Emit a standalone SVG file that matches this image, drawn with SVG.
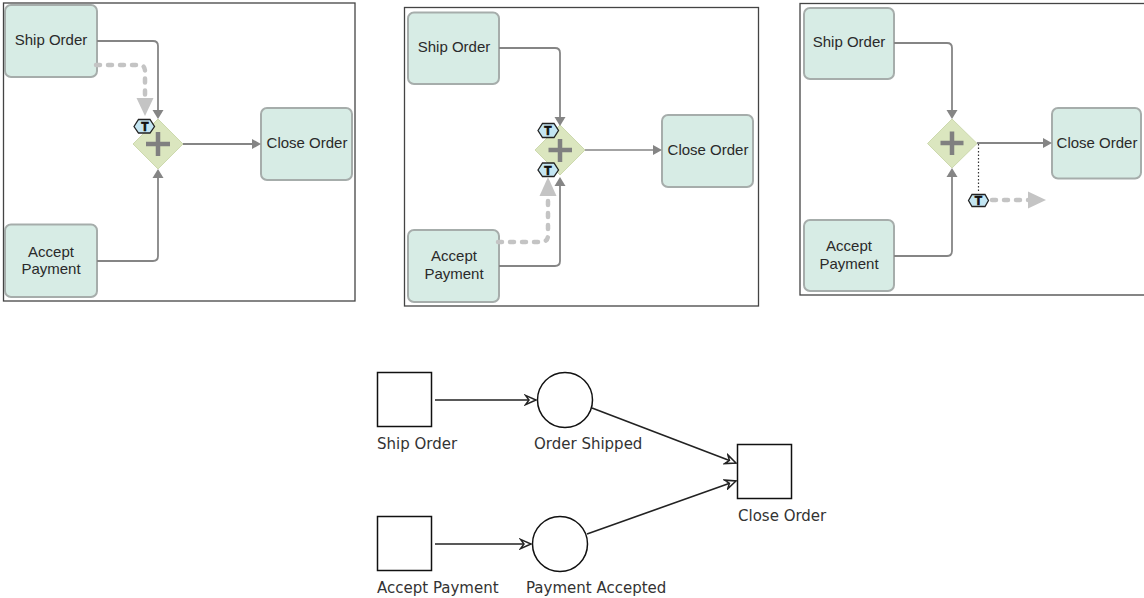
<svg xmlns="http://www.w3.org/2000/svg" width="1144" height="598" viewBox="0 0 1144 598">
<style>
.frame{fill:#fff;stroke:#444;stroke-width:1.3}
.task{fill:#d7ece5;stroke:#a6adab;stroke-width:2}
.gw{fill:#dbe6bf;stroke:#cdd9ae;stroke-width:1}
.plus{stroke:#808080;stroke-width:4.500;fill:none}
.flow{fill:none;stroke:#858585;stroke-width:1.800}
.token{fill:none;stroke:#c4c4c4;stroke-width:4.500;stroke-dasharray:4 8;stroke-linecap:round}
.ah{fill:#858585}
.tah{fill:#c4c4c4}
.hex{fill:#c4e6f3;stroke:#222;stroke-width:1.300}
.ht{font:bold 12px "Liberation Sans",Arial,sans-serif;fill:#111;text-anchor:middle;stroke:#111;stroke-width:.7}
.lbl{font:15px "Liberation Sans",Arial,sans-serif;fill:#2a2a2a;text-anchor:middle}
.pn{fill:#fff;stroke:#111;stroke-width:1.500}
.pl{font:15px "DejaVu Sans",Verdana,sans-serif;fill:#333}
.arc{fill:none;stroke:#222;stroke-width:1.600}
</style>
<defs>
<marker id="open" markerWidth="14" markerHeight="12" refX="10" refY="5" orient="auto" markerUnits="userSpaceOnUse" viewBox="0 0 12 10">
<path d="M1 1L10 5L1 9L4 5Z" fill="#fff" stroke="#222" stroke-width="1.300"/>
</marker>
</defs>
<g id="panel-1">
<rect class="frame" x="3.500" y="3" width="351.500" height="298"/>
</g>
<g id="panel-2">
<rect class="frame" x="404.500" y="7.500" width="354" height="298.500"/>
</g>
<g id="panel-3">
<rect class="frame" x="800" y="3.500" width="350" height="291.500"/>
</g>
<g id="p1-ship"><rect class="task" x="5" y="5" width="92" height="72" rx="6"/><text class="lbl" x="51" y="45">Ship Order</text></g>
<g id="p1-accept"><rect class="task" x="5" y="224.500" width="92" height="72.500" rx="6"/><text class="lbl" x="51" y="257">Accept</text><text class="lbl" x="51" y="274">Payment</text></g>
<g id="p1-close"><rect class="task" x="261" y="108" width="91" height="72" rx="6"/><text class="lbl" x="307" y="148">Close Order</text></g>
<g id="p1-gateway"><path class="gw" d="M158 119L183 144L158 169L133 144Z"/><path class="plus" d="M146 144H170M158 132V156"/></g>
<g id="p1-token"><path class="hex" d="M134 126.500L138.500 119.500H150L154.500 126.500L150 133H138.500Z"/><text class="ht" x="145" y="131">T</text></g>
<g id="p2-ship"><rect class="task" x="408" y="12.500" width="91" height="71.500" rx="6"/><text class="lbl" x="454" y="52">Ship Order</text></g>
<g id="p2-accept"><rect class="task" x="408" y="230" width="91" height="72" rx="6"/><text class="lbl" x="454" y="261">Accept</text><text class="lbl" x="454" y="279">Payment</text></g>
<g id="p2-close"><rect class="task" x="662" y="115" width="91" height="72" rx="6"/><text class="lbl" x="708" y="155">Close Order</text></g>
<g id="p2-gateway"><path class="gw" d="M560 125L585 150L560 175L535 150Z"/><path class="plus" d="M548.500 150H572M560 139V162"/></g>
<g id="p2-token-top"><path class="hex" d="M538 130.500L542.500 123.500H554L558.500 130.500L554 137.500H542.500Z"/><text class="ht" x="548" y="135">T</text></g>
<g id="p2-token-bottom"><path class="hex" d="M538 170L542.500 163H554L558.500 170L554 176.500H542.500Z"/><text class="ht" x="548" y="174.500">T</text></g>
<g id="p3-ship"><rect class="task" x="804" y="8" width="90" height="71" rx="6"/><text class="lbl" x="849" y="47">Ship Order</text></g>
<g id="p3-accept"><rect class="task" x="804" y="220" width="90" height="71" rx="6"/><text class="lbl" x="849" y="251">Accept</text><text class="lbl" x="849" y="269">Payment</text></g>
<g id="p3-close"><rect class="task" x="1052" y="108" width="89" height="70.500" rx="6"/><text class="lbl" x="1097" y="148">Close Order</text></g>
<g id="p3-gateway"><path class="gw" d="M952 119L977 143.500L952 168L927.500 143.500Z"/><path class="plus" d="M940.500 143H963.500M952 131.500V155"/></g>
<g id="p3-token"><path class="hex" d="M968.500 200.500L972 194.500H985L988.500 200.500L985 206.500H972Z"/><text class="ht" x="978.500" y="205">T</text></g>
<g id="pn-ship"><rect class="pn" x="377.500" y="372.500" width="54" height="54"/><text class="pl" x="377" y="448.500">Ship Order</text></g>
<g id="pn-shipped"><circle class="pn" cx="565" cy="400" r="27.500"/><text class="pl" x="534" y="448.500">Order Shipped</text></g>
<g id="pn-accept"><rect class="pn" x="377.500" y="516.500" width="54" height="54"/><text class="pl" x="377" y="592.500">Accept Payment</text></g>
<g id="pn-accepted"><circle class="pn" cx="560" cy="544" r="27.500"/><text class="pl" x="526" y="592.500">Payment Accepted</text></g>
<g id="pn-close"><rect class="pn" x="737.500" y="444.500" width="54" height="54"/><text class="pl" x="738" y="520.500">Close Order</text></g>
<g id="connectors">
<path class="flow" d="M97 41H153Q158 41 158 46V110"/>
<path class="ah" d="M152.500 110H163.500L158 119Z"/>
<path class="token" d="M96 65H139Q145 65 145 71V96"/>
<path class="tah" d="M136.500 98H153.500L145 116Z"/>
<path class="flow" d="M97 261H153Q158 261 158 256V178"/>
<path class="ah" d="M152.500 178H163.500L158 169Z"/>
<path class="flow" d="M183 144H253"/>
<path class="ah" d="M252 139V149L261 144Z"/>
<path class="flow" d="M499 48H555Q560 48 560 53V117"/>
<path class="ah" d="M554.500 117H565.500L560 126Z"/>
<path class="flow" d="M499 266H555Q560 266 560 261V186"/>
<path class="ah" d="M554.500 186H565.500L560 177Z"/>
<path class="token" d="M498 242H541Q548 242 548 235V197"/>
<path class="tah" d="M539.500 196H556.500L548 177Z"/>
<path class="flow" d="M585 150H654" style="stroke-width:1.300"/>
<path class="ah" d="M653 145V155L662 150Z"/>
<path class="flow" d="M894 43H947Q952 43 952 48V110"/>
<path class="ah" d="M946.500 110H957.500L952 119Z"/>
<path class="flow" d="M894 256H947Q952 256 952 251V177"/>
<path class="ah" d="M946.500 177H957.500L952 168Z"/>
<path class="flow" d="M977 143H1044"/>
<path class="ah" d="M1043 138V148L1052 143Z"/>
<path d="M978.500 144V191" fill="none" stroke="#333" stroke-width="1.200" stroke-dasharray="1.500 2"/>
<path class="token" d="M992 200H1030"/>
<path class="tah" d="M1028 191.500V208.500L1046 200Z"/>
<path class="arc" d="M435 400H536" marker-end="url(#open)"/>
<path class="arc" d="M592 408L736 463" marker-end="url(#open)"/>
<path class="arc" d="M435 544H531" marker-end="url(#open)"/>
<path class="arc" d="M587 534L736 481" marker-end="url(#open)"/>
</g>
</svg>
